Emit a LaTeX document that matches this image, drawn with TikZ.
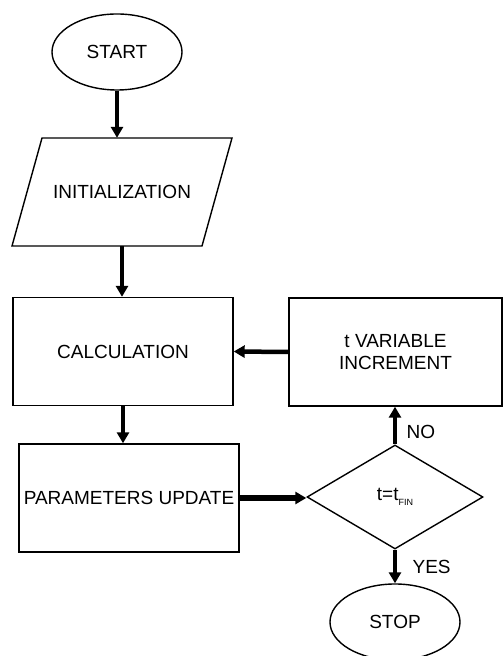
\documentclass[tikz,border=0pt]{standalone}
\usepackage{fontspec}
\setmainfont{Liberation Sans}
\usetikzlibrary{shapes.geometric,arrows.meta}

\begin{document}
\begin{tikzpicture}[x=1pt,y=1pt,font=\fontsize{19}{22}\selectfont,
  shp/.style={draw,line width=1.4pt,inner sep=0pt},
  procbox/.style={shp,rectangle,minimum height=108pt},
  termnode/.style={shp,ellipse,minimum width=130pt,minimum height=76pt},
  flow/.style={line width=4.5pt,-{Triangle[length=11pt,width=12pt]}}]
\useasboundingbox (0,0) rectangle (503,656);
\clip (0,0) rectangle (503,656);
\node[termnode] (S) at (117,604) {START};
\node[inner sep=0pt,minimum width=160pt,minimum height=108pt] (I) at (122,464) {INITIALIZATION};
\draw[line width=1.4pt] (12,410) -- (202,410) -- (232,518) -- (42,518) -- cycle;
\node[procbox,minimum width=220pt] (C) at (123,304.5) {CALCULATION};
\node[procbox,minimum width=220pt] (P) at (129,158) {PARAMETERS UPDATE};
\node[shp,diamond,aspect=1.69,minimum width=176pt,minimum height=104pt] (D) at (395,159) {t=t\raisebox{-5pt}{\fontsize{9}{9}\selectfont FIN}};
\node[procbox,minimum width=213pt,align=center] (T) at (395.5,304) {t VARIABLE\\INCREMENT};
\node[termnode] (E) at (395,34) {STOP};
\draw[flow] (S.south) -- (S.south |- I.north);
\draw[flow] (I.south) -- (I.south |- C.north);
\draw[flow] (C.south) -- (C.south |- P.north);
\draw[flow,line width=6pt] (P.east) -- (P.east -| D.west);
\draw[flow] (D.north) -- (D.north |- T.south) node[pos=0.33,right=6pt]{NO};
\draw[flow] (T.west) -- (C.east);
\draw[flow] (D.south) -- (E.north) node[midway,right=12pt]{YES};
\end{tikzpicture}
\end{document}
